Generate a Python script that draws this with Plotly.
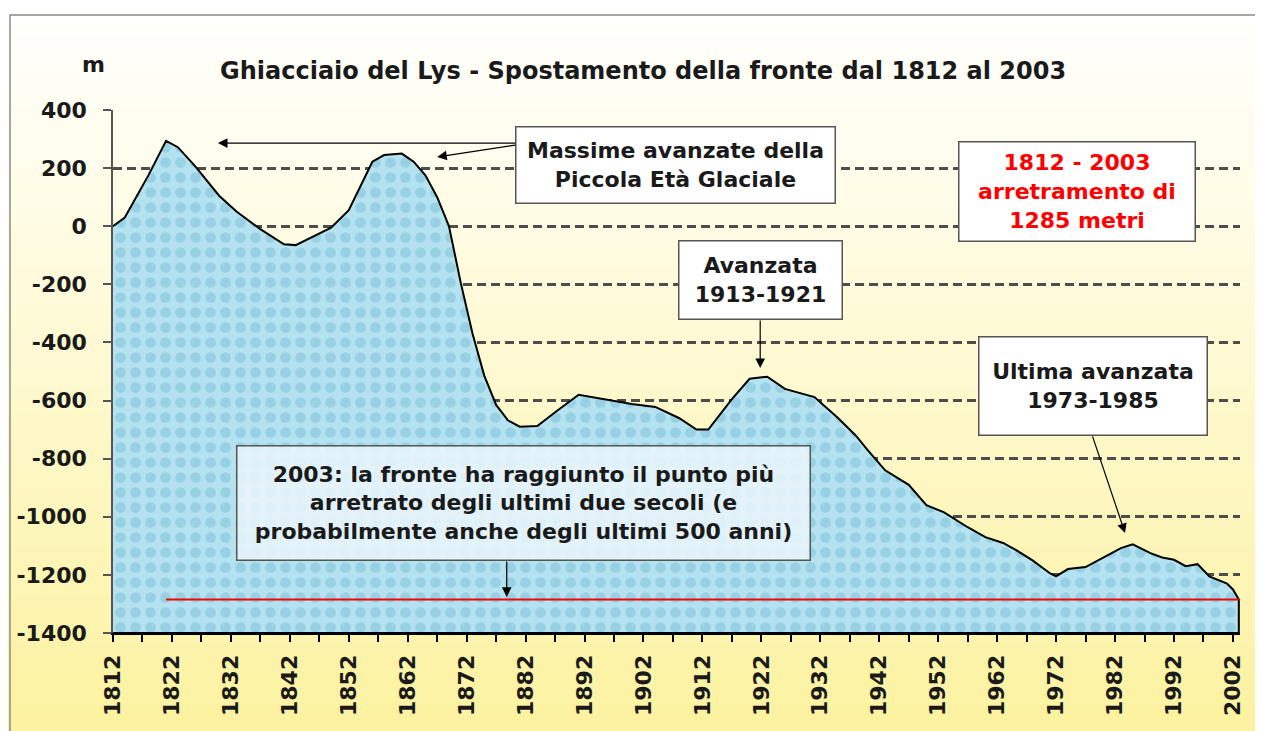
import plotly.graph_objects as go

# Lys glacier front position (m), relative to 1812
years = [1812, 1814, 1818, 1821, 1823, 1826, 1830, 1833, 1837, 1841, 1843, 1846,
         1849, 1852, 1854, 1856, 1858, 1861, 1863, 1865, 1867, 1869, 1871, 1873,
         1875, 1877, 1879, 1881, 1884, 1887, 1891, 1896, 1900, 1904, 1908, 1911,
         1913, 1917, 1920, 1923, 1926, 1931, 1935, 1938, 1940, 1943, 1947, 1950,
         1953, 1957, 1960, 1963, 1965, 1968, 1971, 1972, 1974, 1977, 1980, 1983,
         1985, 1988, 1990, 1992, 1994, 1996, 1998, 2001, 2002, 2003]
front = [0, 30, 175, 294, 272, 205, 105, 50, -10, -62, -65, -35,
         -5, 55, 140, 222, 245, 250, 222, 175, 100, 0, -195, -370,
         -515, -615, -668, -690, -688, -640, -580, -598, -612, -622, -660, -700,
         -700, -595, -525, -518, -560, -588, -660, -720, -770, -840, -890, -960,
         -985, -1036, -1070, -1090, -1112, -1150, -1195, -1205, -1180, -1173, -1140, -1108,
         -1095, -1125, -1140, -1148, -1170, -1163, -1205, -1230, -1250, -1285]

# red reference line: 2003 position
ref_years = [1821, 2003]
ref_front = [-1285, -1285]

y_min, y_max = -1400, 400
y_ticks = [400, 200, 0, -200, -400, -600, -800, -1000, -1200, -1400]
y_ticktext = ["400", "200", "0", "-200", "-400", "-600", "-800", "-1000", "-1200", "-1400"]
x_ticks = list(range(1812, 2003, 10))

font_family = "DejaVu Sans"

fig = go.Figure()

# glacier area, closed down to the axis minimum
fig.add_trace(go.Scatter(
    x=years + [years[-1], years[0]],
    y=front + [y_min, y_min],
    fill="toself",
    fillcolor="#b0e0ee",
    fillpattern=dict(shape=".", fgcolor="#98d1e4", bgcolor="#b4e2f0",
                     size=15, solidity=0.4, fillmode="replace"),
    line=dict(color="black", width=2),
    mode="lines",
    hoverinfo="skip",
    showlegend=False,
))

fig.add_trace(go.Scatter(
    x=ref_years, y=ref_front, mode="lines",
    line=dict(color="#ff0000", width=2),
    showlegend=False,
))

# page coords -> paper coords (plot area at x 113..1240, y 110..633 on screen)
def px(xp):
    return (xp - 113) / 1127

def py(yp):
    return (633 - yp) / 523

# background gradient (white at top -> yellow at bottom)
n_bands = 60
for i in range(n_bands):
    p0 = 731 * i / n_bands
    p1 = 731 * (i + 1) / n_bands
    t = (p0 + p1) / 2 / 731
    if t < 0.2:
        s = t / 0.2
        c0, c1 = (255, 255, 255), (255, 253, 238)
    else:
        s = (t - 0.2) / 0.8
        c0, c1 = (255, 253, 238), (252, 242, 160)
    col = tuple(round(c0[k] + (c1[k] - c0[k]) * s) for k in range(3))
    fig.add_shape(type="rect", xref="paper", yref="paper", layer="below",
                  x0=px(0), x1=px(1275), y0=py(p1), y1=py(p0) + 0.002,
                  fillcolor="rgb(%d,%d,%d)" % col, line=dict(width=0))

# outer frame
fig.add_shape(type="rect", xref="paper", yref="paper", layer="above",
              x0=px(10), x1=px(1262), y0=py(745), y1=py(15),
              line=dict(color="#8a8a8a", width=1.5), fillcolor="rgba(0,0,0,0)")

ann_font = dict(family=font_family, size=22, color="#1a1a1a", weight="bold")

# text boxes
boxes = [
    dict(x=1907.5, y=210, w=318, h=75, bg="white",
         text="Massime avanzate della<br>Piccola Età Glaciale", color="#1a1a1a"),
    dict(x=1975.6, y=121, w=235, h=98, bg="white",
         text="1812 - 2003<br>arretramento di<br>1285 metri", color="#ff0000"),
    dict(x=1921.9, y=-185, w=162, h=77, bg="white",
         text="Avanzata<br>1913-1921", color="#1a1a1a"),
    dict(x=1978.3, y=-550, w=227, h=97, bg="white",
         text="Ultima avanzata<br>1973-1985", color="#1a1a1a"),
    dict(x=1881.7, y=-952, w=572, h=113, bg="rgba(240,248,252,0.8)",
         text="2003: la fronte ha raggiunto il punto più<br>arretrato degli ultimi due secoli (e<br>"
              "probabilmente anche degli ultimi 500 anni)", color="#1a1a1a"),
]
for b in boxes:
    fig.add_annotation(x=b["x"], y=b["y"], xref="x", yref="y", text=b["text"],
                       showarrow=False, width=b["w"], height=b["h"],
                       bgcolor=b["bg"], bordercolor="#555555", borderwidth=1.5,
                       borderpad=0, align="center", valign="middle",
                       font=dict(ann_font, color=b["color"]))

# arrows: (start x, start y, tip x, tip y)
arrows = [
    (1880.5, 286, 1829.8, 286),
    (1880.5, 280, 1867.0, 238),
    (1921.8, -319, 1921.8, -488),
    (1978.1, -718, 1983.7, -1056),
    (1878.8, -1149, 1878.8, -1276),
]
for ax0, ay0, x1, y1 in arrows:
    fig.add_annotation(x=x1, y=y1, ax=ax0, ay=ay0, xref="x", yref="y",
                       axref="x", ayref="y", text="", showarrow=True,
                       arrowhead=2, arrowsize=1.6, arrowwidth=1.2,
                       arrowcolor="black", standoff=0, startstandoff=0)

# title and unit
fig.add_annotation(x=px(643), y=py(55), xref="paper", yref="paper",
                   text="Ghiacciaio del Lys - Spostamento della fronte dal 1812 al 2003",
                   showarrow=False, font=dict(family=font_family, size=24,
                                              color="#1a1a1a", weight="bold"))
fig.add_annotation(x=px(80), y=py(50), xref="paper", yref="paper",
                   text="m", showarrow=False,
                   font=dict(family=font_family, size=22, color="#1a1a1a", weight="bold"))

fig.update_xaxes(
    range=[1812, 2003.2],
    tickvals=x_ticks, ticktext=[str(v) for v in x_ticks],
    tickangle=-90, ticks="outside", ticklen=7, tickwidth=1.5, tickcolor="black",
    minor=dict(ticks="outside", tick0=1812, dtick=5, ticklen=7, tickwidth=1.5,
               tickcolor="black"),
    showline=True, linecolor="black", linewidth=2,
    showgrid=False, zeroline=False, automargin=False,
    tickfont=dict(family=font_family, size=22, color="#1a1a1a", weight="bold"),
    ticklabelstandoff=4,
)
fig.update_yaxes(
    range=[y_min, y_max],
    tickvals=y_ticks, ticktext=y_ticktext,
    ticks="outside", ticklen=8, tickwidth=1.5, tickcolor="#555555",
    showline=True, linecolor="#555555", linewidth=1.5,
    showgrid=True, gridcolor="#4d4d4d", gridwidth=2.5, griddash="9px,5px",
    zeroline=False, automargin=False,
    tickfont=dict(family=font_family, size=22, color="#1a1a1a", weight="bold"),
    ticklabelstandoff=12,
)

# the page body adds 8px, so margins are shifted to keep the plot area in place
fig.update_layout(
    width=1263, height=731,
    margin=dict(l=105, r=31, t=102, b=106),
    paper_bgcolor="white",
    plot_bgcolor="rgba(0,0,0,0)",
    font=dict(family=font_family),
    showlegend=False,
)

fig.write_html("out.html")
